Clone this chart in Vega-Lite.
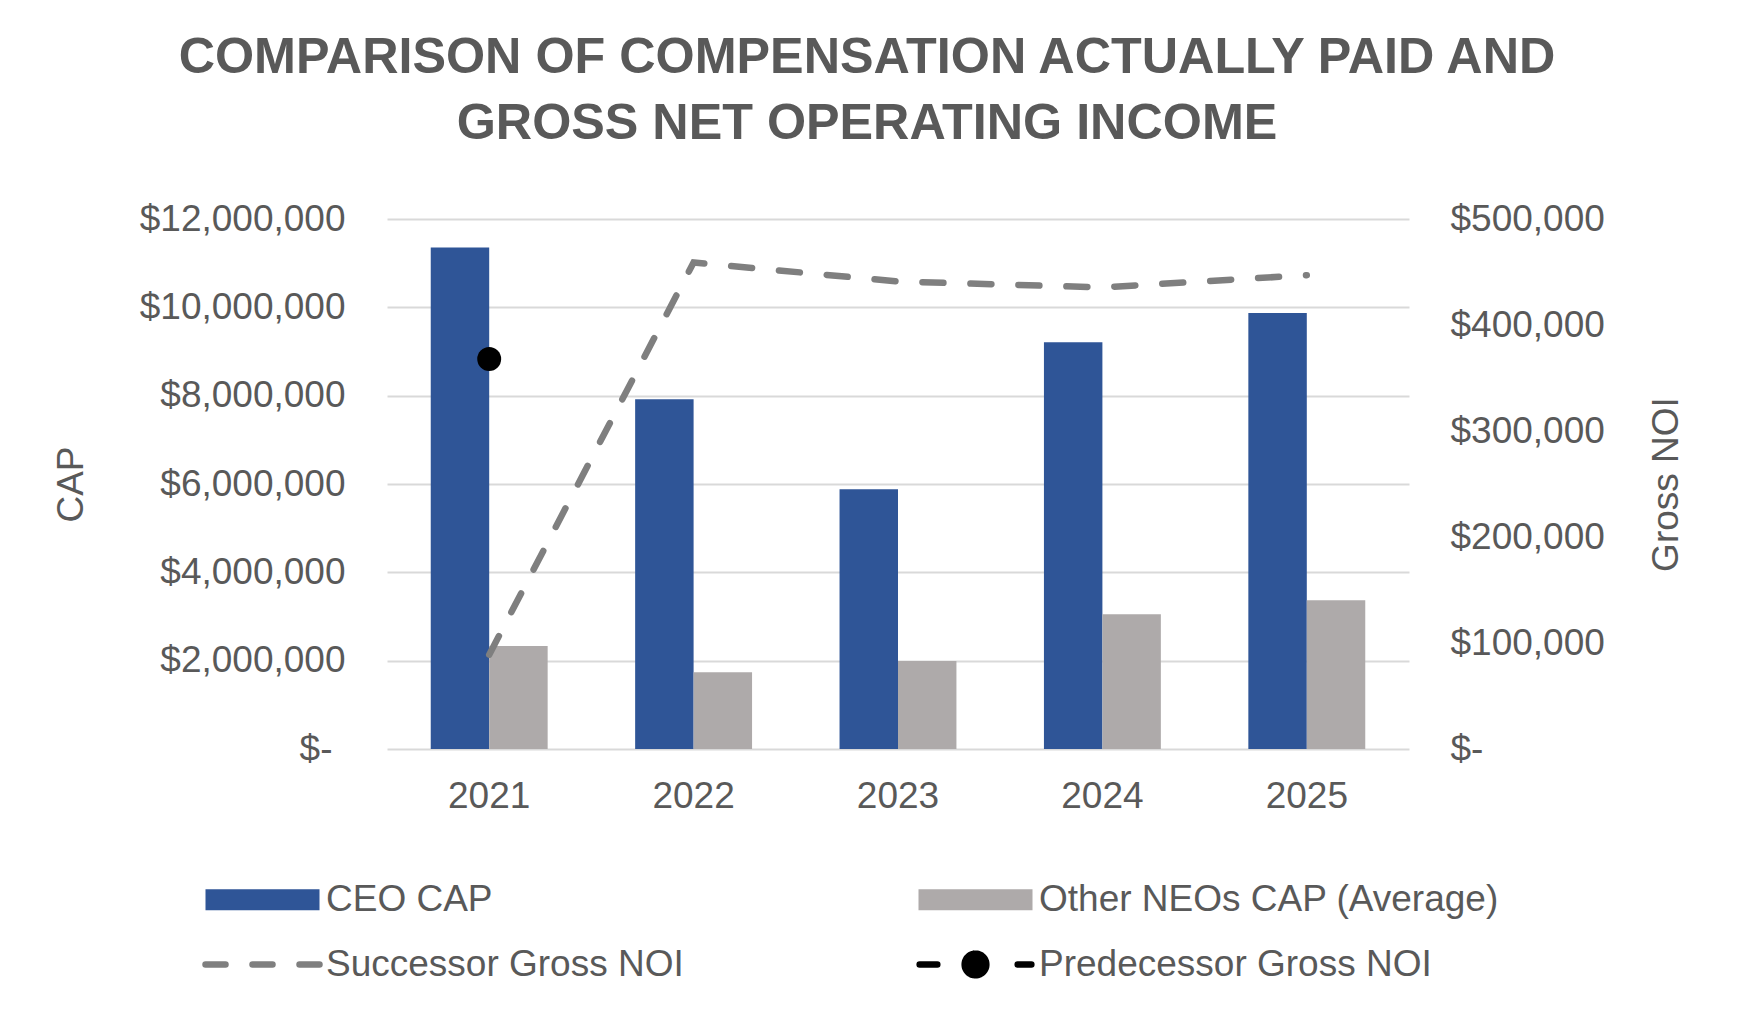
{
  "$schema": "https://vega.github.io/schema/vega-lite/v6.json",
  "autosize": {"type": "none"},
  "width": 1022,
  "height": 530,
  "padding": {"left": 387, "top": 219, "right": 338, "bottom": 261},
  "background": "white",
  "config": {
    "view": {"stroke": null},
    "font": "Liberation Sans"
  },
  "title": {
    "text": ["COMPARISON OF COMPENSATION ACTUALLY PAID AND", "GROSS NET OPERATING INCOME"],
    "fontSize": 50.3,
    "fontWeight": "bold",
    "font": "Liberation Sans",
    "color": "#595959",
    "lineHeight": 66,
    "anchor": "middle",
    "dx": -31,
    "offset": 51
  },
  "data": {
    "values": [
      {"year": "2021", "series": "CEO CAP", "value": 11355000},
      {"year": "2022", "series": "CEO CAP", "value": 7920000},
      {"year": "2023", "series": "CEO CAP", "value": 5880000},
      {"year": "2024", "series": "CEO CAP", "value": 9210000},
      {"year": "2025", "series": "CEO CAP", "value": 9870000},
      {"year": "2021", "series": "Other NEOs CAP (Average)", "value": 2330000},
      {"year": "2022", "series": "Other NEOs CAP (Average)", "value": 1740000},
      {"year": "2023", "series": "Other NEOs CAP (Average)", "value": 1990000},
      {"year": "2024", "series": "Other NEOs CAP (Average)", "value": 3050000},
      {"year": "2025", "series": "Other NEOs CAP (Average)", "value": 3370000},
      {"year": "2021", "series": "Successor Gross NOI", "value": 89000},
      {"year": "2022", "series": "Successor Gross NOI", "value": 459000},
      {"year": "2023", "series": "Successor Gross NOI", "value": 441000},
      {"year": "2024", "series": "Successor Gross NOI", "value": 435500},
      {"year": "2025", "series": "Successor Gross NOI", "value": 447000},
      {"year": "2021", "series": "Predecessor Gross NOI", "value": 368000}
    ]
  },
  "encoding": {
    "x": {
      "field": "year",
      "type": "nominal",
      "scale": {"paddingInner": 0.428, "paddingOuter": 0.214},
      "axis": {
        "title": null,
        "labelAngle": 0,
        "labelFontSize": 37,
        "labelColor": "#595959",
        "labelFont": "Liberation Sans",
        "labelPadding": 29,
        "ticks": false,
        "tickSize": 0,
        "domain": false,
        "grid": false
      }
    },
    "color": {
      "field": "series",
      "type": "nominal",
      "scale": {
        "domain": ["CEO CAP", "Other NEOs CAP (Average)", "Successor Gross NOI", "Predecessor Gross NOI"],
        "range": ["#2F5597", "#AEAAAA", "#7F7F7F", "#000000"]
      },
      "legend": {
        "title": null,
        "orient": "none",
        "legendX": -181,
        "legendY": 662,
        "direction": "horizontal",
        "columns": 2,
        "columnPadding": 222,
        "rowPadding": 22,
        "symbolSize": 12996,
        "symbolOffset": 38,
        "labelOffset": 45,
        "labelFontSize": 37,
        "labelColor": "#595959",
        "labelFont": "Liberation Sans",
        "labelLimit": 800,
        "symbolStrokeWidth": 0,
        "encode": {
          "symbols": {
            "update": {
              "shape": {"signal": "datum.value === 'Successor Gross NOI' ? 'M-1,0H1' : datum.value === 'Predecessor Gross NOI' ? 'M-0.98,0H-0.67M0.74,0H0.98M-0.19,0A0.19,0.19 0 1,0 0.19,0A0.19,0.19 0 1,0 -0.19,0Z' : 'M-1,-0.185H1V0.185H-1Z'"},
              "fill": {"signal": "datum.value === 'CEO CAP' ? '#2F5597' : datum.value === 'Other NEOs CAP (Average)' ? '#AEAAAA' : datum.value === 'Predecessor Gross NOI' ? '#000000' : 'transparent'"},
              "stroke": {"signal": "datum.value === 'Successor Gross NOI' ? '#7F7F7F' : datum.value === 'Predecessor Gross NOI' ? '#000000' : 'transparent'"},
              "strokeWidth": {"signal": "datum.value === 'Successor Gross NOI' || datum.value === 'Predecessor Gross NOI' ? 6.5 : 0"},
              "strokeDash": {"signal": "datum.value === 'Successor Gross NOI' ? [20, 27] : [1, 0]"},
              "strokeCap": {"value": "round"},
              "opacity": {"value": 1},
              "size": {"value": 12996}
            }
          }
        }
      }
    }
  },
  "layer": [
    {
      "transform": [{"filter": "datum.series === 'CEO CAP' || datum.series === 'Other NEOs CAP (Average)'"}],
      "mark": {"type": "bar"},
      "encoding": {
        "xOffset": {
          "field": "series",
          "type": "nominal",
          "scale": {"domain": ["CEO CAP", "Other NEOs CAP (Average)"], "paddingInner": 0, "paddingOuter": 0}
        },
        "y": {
          "field": "value",
          "type": "quantitative",
          "scale": {"domain": [0, 12000000], "nice": false},
          "axis": {
            "title": "CAP",
            "titleFontSize": 37,
            "titleFontWeight": "normal",
            "titleColor": "#595959",
            "titleFont": "Liberation Sans",
            "titlePadding": 97,
            "values": [0, 2000000, 4000000, 6000000, 8000000, 10000000, 12000000],
            "labelExpr": "datum.value === 0 ? '$-' : '$' + format(datum.value, ',')",
            "labelFontSize": 37,
            "labelColor": "#595959",
            "labelFont": "Liberation Sans",
            "labelLimit": 500,
            "labelPadding": {"condition": {"test": "datum.value === 0", "value": 55}, "value": 42},
            "ticks": false,
            "tickSize": 0,
            "domain": false,
            "grid": true,
            "gridColor": "#D9D9D9",
            "gridWidth": 2
          }
        }
      }
    },
    {
      "encoding": {
        "y": {
          "field": "value",
          "type": "quantitative",
          "scale": {"domain": [0, 500000], "nice": false},
          "axis": {
            "orient": "right",
            "title": "Gross NOI",
            "titleAngle": 270,
            "titleBaseline": "top",
            "titleFontSize": 37,
            "titleFontWeight": "normal",
            "titleColor": "#595959",
            "titleFont": "Liberation Sans",
            "titlePadding": 44,
            "values": [0, 100000, 200000, 300000, 400000, 500000],
            "labelExpr": "datum.value === 0 ? '$-' : '$' + format(datum.value, ',')",
            "labelFontSize": 37,
            "labelColor": "#595959",
            "labelFont": "Liberation Sans",
            "labelLimit": 500,
            "labelPadding": 41,
            "ticks": false,
            "tickSize": 0,
            "domain": false,
            "grid": false
          }
        }
      },
      "layer": [
        {
          "transform": [{"filter": "datum.series === 'Successor Gross NOI'"}],
          "mark": {"type": "line", "strokeWidth": 6.5, "strokeDash": [21, 27], "strokeCap": "round", "interpolate": "linear"}
        },
        {
          "transform": [{"filter": "datum.series === 'Predecessor Gross NOI'"}],
          "mark": {"type": "point", "filled": true, "size": 572, "opacity": 1, "shape": "circle"}
        }
      ]
    }
  ],
  "resolve": {"scale": {"y": "independent"}}
}
